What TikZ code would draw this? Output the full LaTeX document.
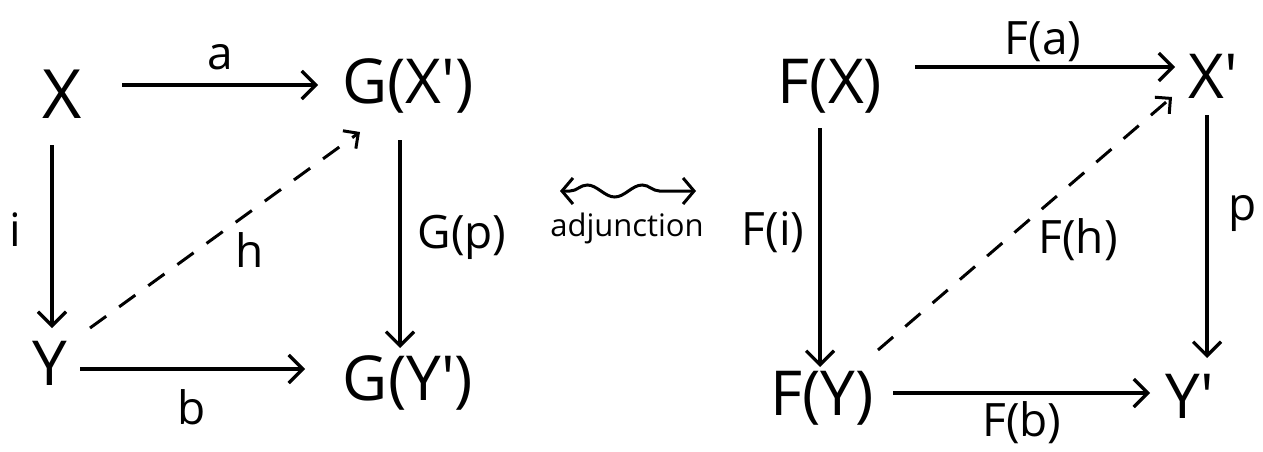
\documentclass[tikz,border=0pt]{standalone}
\usepackage{fontspec}
\setmainfont{Open Sans}
\usetikzlibrary{arrows.meta,decorations.pathmorphing}
\begin{document}
\begin{tikzpicture}[x=1pt,y=-1pt,
  obj/.style={inner sep=0pt,font=\fontsize{62}{64}\selectfont},
  big/.style={inner sep=0pt,font=\fontsize{68}{70}\selectfont},
  lab/.style={inner sep=0pt,font=\fontsize{46}{48}\selectfont},
  small/.style={inner sep=0pt,font=\fontsize{31}{33}\selectfont},
  arr/.style={line width=3.2pt,-{Straight Barb[length=14pt,width=28pt,line width=3.2pt]}},
  darr/.style={line width=3pt,dash pattern=on 20pt off 16pt,-{Straight Barb[length=11pt,width=22pt,line width=3pt]}},
  every node/.style={text=black}]
\useasboundingbox[fill=white] (0,0) rectangle (1263,452);
% left square
\node[big] (X) at (62,94) {X};
\node[obj] (GX) at (408,86) {G(X\textquotesingle)};
\node[obj] (Y) at (50,363) {Y};
\node[obj] (GY) at (408,383) {G(Y\textquotesingle)};
\node[lab] (la) at (220,57) {a};
\node[lab] (li) at (15,230) {i};
\node[lab] (lb) at (192,407) {b};
\node[lab] (lGp) at (462,237) {G(p)};
\node[lab] (lh) at (250,250) {h};
\draw[arr] ([shift={(60,-9)}]X.center) -- ([shift={(-90,-1)}]GX.center);
\draw[arr] ([shift={(-10,51)}]X.center) -- ([shift={(2,-35)}]Y.center);
\draw[arr] ([shift={(30,6)}]Y.center) -- ([shift={(-103,-14)}]GY.center);
\draw[arr] ([shift={(-8,54)}]GX.center) -- ([shift={(-8,-35)}]GY.center);
\draw[darr] ([shift={(40,-35)}]Y.center) -- ([shift={(-48,46)}]GX.center);
% adjunction
\node[small] (adj) at (627,228) {adjunction};
\coordinate (adjL) at (560,191);
\coordinate (adjR) at (696,191);
\draw[line width=3pt,{Straight Barb[length=11pt,width=26pt,line width=3pt]}-{Straight Barb[length=11pt,width=26pt,line width=3pt]},
  decorate,decoration={snake,amplitude=6pt,segment length=55pt,pre length=10pt,post length=10pt}] (adjL) -- (adjR);
% right square
\node[obj] (FX) at (830,86) {F(X)};
\node[obj] (Xp) at (1213,76) {X\textquotesingle};
\node[obj] (FY) at (822,398) {F(Y)};
\node[obj] (Yp) at (1190,396) {Y\textquotesingle};
\node[lab] (lFa) at (1043,42) {F(a)};
\node[lab] (lFi) at (773,232) {F(i)};
\node[lab] (lFb) at (1022,423) {F(b)};
\node[lab] (lp) at (1243,213) {p};
\node[lab] (lFh) at (1078,240) {F(h)};
\draw[arr] ([shift={(85,-19)}]FX.center) -- ([shift={(-38,-9)}]Xp.center);
\draw[arr] ([shift={(-10,42)}]FX.center) -- ([shift={(-2,-31)}]FY.center);
\draw[arr] ([shift={(71,-5)}]FY.center) -- ([shift={(-40,-3)}]Yp.center);
\draw[arr] ([shift={(-6,39)}]Xp.center) -- ([shift={(17,-38)}]Yp.center);
\draw[darr] ([shift={(56,-48)}]FY.center) -- ([shift={(-41,21)}]Xp.center);
\end{tikzpicture}
\end{document}
